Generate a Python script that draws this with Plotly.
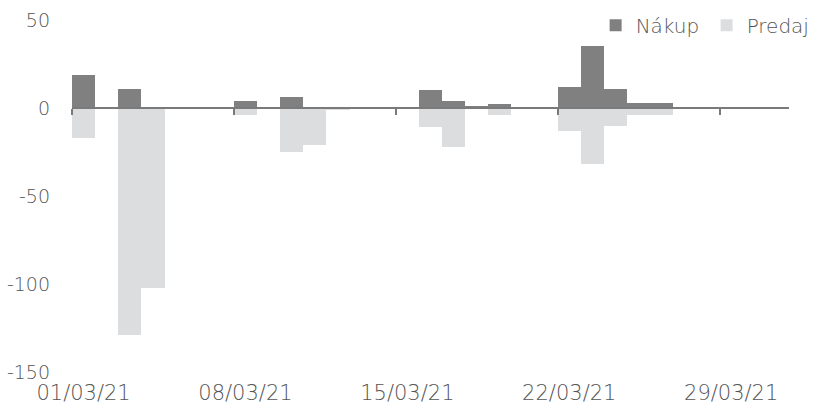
import plotly.graph_objects as go

days = list(range(1, 32))
nakup = [19, 0, 11, 0, 0, 0, 0, 4, 0, 6, 0, 0, 0, 0, 0,
         10, 4, 1, 2, 0, 0, 12, 35, 11, 3, 3, 0, 0, 0, 0, 0]
predaj = [-17, 0, -129, -102, 0, 0, 0, -4, 0, -25, -21, -1, 0, 0, 0,
          -11, -22, 0, -4, 0, 0, -13, -32, -10, -4, -4, 0, 0, 0, 0, 0]
tick_days = [1, 8, 15, 22, 29]
tick_labels = ["01/03/21", "08/03/21", "15/03/21", "22/03/21", "29/03/21"]
y_ticks = [50, 0, -50, -100, -150]
y_labels = ["50", "0", "-50", "-100", "-150"]

FONT = "DejaVu Sans"
TXT = "#555555"

xpos = [d - 0.5 for d in days]  # bar centres, day d spans [d-1, d]

fig = go.Figure()
fig.add_trace(go.Bar(x=xpos, y=nakup, width=1, name="Nákup",
                     marker=dict(color="#808080", line=dict(width=0))))
fig.add_trace(go.Bar(x=xpos, y=predaj, width=1, name="Predaj",
                     marker=dict(color="#dcdddf", line=dict(width=0))))
# invisible trace to carry the zero-line axis
fig.add_trace(go.Scatter(x=[0, len(days)], y=[0, 0], xaxis="x2", mode="lines",
                         line=dict(width=0), showlegend=False, hoverinfo="skip"))

ymin, ymax = -150, 50
fig.update_layout(
    width=815, height=409,
    margin=dict(l=72, r=26, t=20, b=37, autoexpand=False),
    paper_bgcolor="white", plot_bgcolor="white",
    barmode="relative", bargap=0,
    font=dict(family=FONT, size=21, color=TXT, weight=200),
    showlegend=True,
    legend=dict(orientation="h", x=0.7303, xanchor="left", y=0.985, yanchor="middle",
                font=dict(size=20, color=TXT, family=FONT, weight=200),
                bgcolor="rgba(0,0,0,0)", borderwidth=0,
                itemwidth=30, traceorder="normal",
                entrywidth=66, entrywidthmode="pixels"),
    xaxis=dict(range=[0, len(days)], tickvals=[d - 0.5 for d in tick_days],
               ticktext=tick_labels, showline=False, showgrid=False,
               zeroline=False, ticks="", ticklabelstandoff=6, automargin=False),
    xaxis2=dict(range=[0, len(days)], overlaying="x", anchor="free",
                position=(0 - ymin) / (ymax - ymin), side="bottom",
                showline=True, linecolor="#7a7a7a", linewidth=2,
                tickvals=[d - 1 for d in tick_days], ticks="outside",
                ticklen=6, tickwidth=2, tickcolor="#7a7a7a",
                showticklabels=False, showgrid=False, zeroline=False,
                automargin=False),
    yaxis=dict(range=[ymin, ymax], tickvals=y_ticks, ticktext=y_labels,
               showgrid=False, zeroline=False, showline=False, ticks="",
               ticklabelstandoff=21, automargin=False,
               tickfont=dict(family=FONT, size=19, color=TXT, weight=200)),
)

fig.write_html("out.html", config={"displayModeBar": False},
               post_script="document.body.style.margin='0';")
